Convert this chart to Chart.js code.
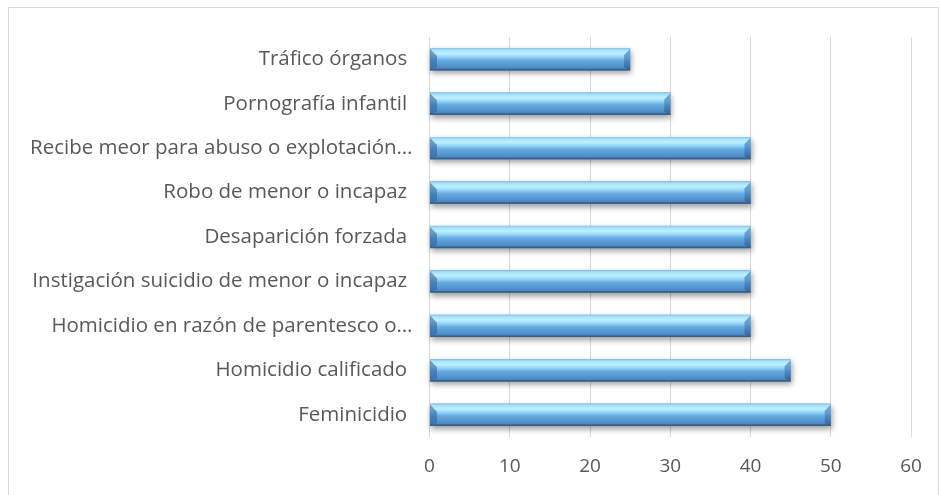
<!DOCTYPE html>
<html>
<head>
<meta charset="utf-8">
<script src="https://cdn.jsdelivr.net/npm/chart.js@4.4.1/dist/chart.umd.min.js"></script>
<style>
  body { margin: 0; background: #fff; }
  #frame { position: absolute; left: 8px; top: 7px; width: 929px; height: 600px; border: 1px solid #d9d9d9; }
  #wrap { position: absolute; left: 0; top: 0; width: 940px; height: 495px; }
</style>
</head>
<body>
<div id="frame"></div>
<div id="wrap"><canvas id="my-chart"></canvas></div>
<script>
// chart data
let categories = [
  'Tráfico órganos ',
  'Pornografía infantil ',
  'Recibe meor para abuso o explotación…',
  'Robo de menor o incapaz ',
  'Desaparición forzada ',
  'Instigación suicidio de menor o incapaz ',
  'Homicidio en razón de parentesco o…',
  'Homicidio calificado ',
  'Feminicidio '
];
let values = [25, 30, 40, 40, 40, 40, 40, 45, 50];
let xTicks = [0, 10, 20, 30, 40, 50, 60];

let ctx = document.getElementById('my-chart');

// draws the bevelled 3D look on top of each bar
let bevelBars = {
  id: 'bevelBars',
  afterDatasetsDraw(chart) {
    let c = chart.ctx;
    let meta = chart.getDatasetMeta(0);
    meta.data.forEach(function (bar) {
      let left = Math.min(bar.base, bar.x);
      let right = Math.max(bar.base, bar.x);
      let top = bar.y - bar.height / 2;
      let bottom = bar.y + bar.height / 2;
      let h = bottom - top;

      c.save();
      // shadow
      c.shadowColor = 'rgba(0,0,0,0.4)';
      c.shadowBlur = 6;
      c.shadowOffsetX = 1;
      c.shadowOffsetY = 3;
      c.fillStyle = '#4f8fcb';
      c.fillRect(left, top, right - left, h);
      c.restore();

      c.save();
      let g = c.createLinearGradient(0, top, 0, bottom);
      g.addColorStop(0, '#8ac8ee');
      g.addColorStop(0.1, '#aae3fb');
      g.addColorStop(0.24, '#bdf0ff');
      g.addColorStop(0.4, '#93d3f6');
      g.addColorStop(0.55, '#66aadf');
      g.addColorStop(0.8, '#5493cf');
      g.addColorStop(0.92, '#4a86c0');
      g.addColorStop(1, '#35679a');
      c.fillStyle = g;
      c.fillRect(left, top, right - left, h);

      // left bevel (triangle at the upper left corner)
      c.fillStyle = 'rgba(50,100,160,0.6)';
      c.beginPath();
      c.moveTo(left, top + 1);
      c.lineTo(left + 7, top + 8);
      c.lineTo(left + 7, bottom - 3);
      c.lineTo(left, bottom - 1);
      c.closePath();
      c.fill();

      // right bevel
      let rg = c.createLinearGradient(0, top, 0, bottom);
      rg.addColorStop(0, 'rgba(80,140,200,0.75)');
      rg.addColorStop(0.5, 'rgba(70,130,190,0.7)');
      rg.addColorStop(1, 'rgba(45,90,140,0.8)');
      c.fillStyle = rg;
      c.beginPath();
      c.moveTo(right, top + 1);
      c.lineTo(right, bottom);
      c.lineTo(right - 6, bottom - 3);
      c.lineTo(right - 6, top + 7);
      c.closePath();
      c.fill();

      // dark bottom edge
      c.fillStyle = '#34608c';
      c.fillRect(left, bottom - 1.5, right - left, 1.5);
      c.restore();
    });
  }
};

let chartObject = {
  type: 'bar',
  data: {
    labels: categories,
    datasets: [{
      data: values,
      backgroundColor: 'rgba(0,0,0,0)',
      borderWidth: 0,
      categoryPercentage: 1,
      barPercentage: 0.5
    }]
  },
  options: {
    indexAxis: 'y',
    responsive: true,
    maintainAspectRatio: false,
    animation: false,
    layout: { padding: { left: 0, right: 29, top: 37, bottom: 0 } },
    plugins: {
      legend: { display: false },
      tooltip: { enabled: false }
    },
    scales: {
      x: {
        min: 0,
        max: 60,
        afterBuildTicks(axis) {
          axis.ticks = xTicks.map(v => ({ value: v }));
        },
        afterFit(axis) { axis.height = 58; },
        grid: { color: '#d9d9d9', lineWidth: 1, drawTicks: false },
        border: { display: false },
        ticks: {
          padding: 18,
          color: '#595959',
          font: { family: 'Open Sans', size: 19 }
        }
      },
      y: {
        afterFit(axis) { axis.width = 429.5; },
        grid: { display: false },
        border: { display: false },
        ticks: {
          padding: 9,
          color: '#595959',
          font: { family: 'Open Sans', size: 20.5 }
        }
      }
    }
  },
  plugins: [bevelBars]
};

const myChart = new Chart(ctx, chartObject); //eslint-disable-line
</script>
</body>
</html>
